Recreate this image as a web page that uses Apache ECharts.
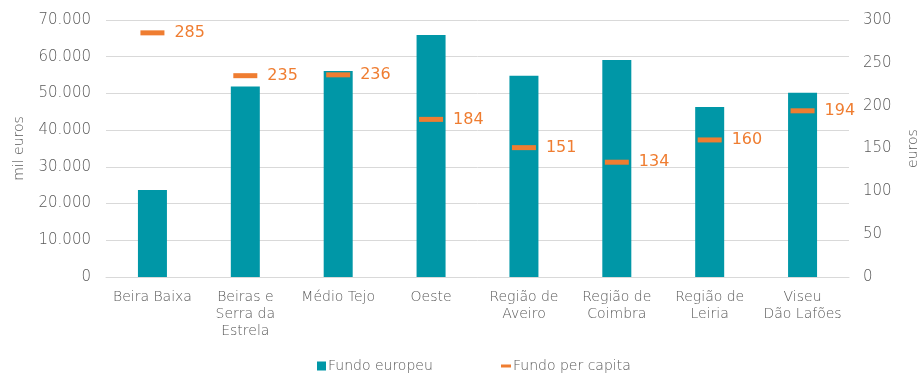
<!DOCTYPE html>
<html>
<head>
<meta charset="utf-8">
<script src="https://cdn.jsdelivr.net/npm/echarts@6/dist/echarts.min.js"></script>
<style>
  html, body { margin: 0; padding: 0; background: #ffffff; }
  #chart { width: 923px; height: 374px; }
</style>
</head>
<body>
<div id="chart"></div>
<script>
// Regions (NUTS III) and their funding figures
const categories = [
  'Beira Baixa', 'Beiras e\nSerra da\nEstrela', 'Médio Tejo', 'Oeste',
  'Região de\nAveiro', 'Região de\nCoimbra', 'Região de\nLeiria', 'Viseu\nDão Lafões'
];
// European funding, thousand euros
const fundoEuropeu = [23700, 51900, 56100, 65900, 54800, 59100, 46300, 50200];
// Funding per capita, euros
const fundoPerCapita = [285, 235, 236, 184, 151, 134, 160, 194];

const leftTicks = { min: 0, max: 70000, interval: 10000 };
const rightTicks = { min: 0, max: 300, interval: 50 };

const TEAL = '#0097a7';
const ORANGE = '#ef7d31';
const TEXT = '#595959';
const FONT = 'DejaVu Sans';
const W = 200;

const fmtThousands = v => String(v).replace(/\B(?=(\d{3})+(?!\d))/g, '.');

const legendText = { color: TEXT, fontSize: 14, fontFamily: FONT, fontWeight: W, padding: [0, 0, 0, -3] };

const chart = echarts.init(document.getElementById('chart'));
chart.setOption({
  animation: false,
  textStyle: { fontFamily: FONT, fontWeight: W },
  grid: { left: 106, right: 74, top: 20, bottom: 97, containLabel: false, outerBoundsMode: 'none' },
  legend: [
    {
      left: 317, top: 359, padding: 0,
      itemWidth: 9, itemHeight: 9,
      textStyle: legendText,
      data: [{ name: 'Fundo europeu', icon: 'rect' }]
    },
    {
      left: 501, top: 359, padding: 0,
      itemWidth: 10, itemHeight: 3,
      textStyle: legendText,
      data: [{ name: 'Fundo per capita', icon: 'rect' }]
    }
  ],
  xAxis: {
    type: 'category',
    data: categories,
    axisLine: { lineStyle: { color: '#d9d9d9' } },
    axisTick: { show: false },
    axisLabel: { color: TEXT, fontSize: 14, fontWeight: W, lineHeight: 17, margin: 12, interval: 0 }
  },
  yAxis: [
    {
      type: 'value',
      min: leftTicks.min, max: leftTicks.max, interval: leftTicks.interval,
      name: 'mil euros',
      nameLocation: 'middle',
      nameRotate: 90,
      nameGap: 80,
      nameTextStyle: { color: TEXT, fontSize: 14, fontWeight: W },
      axisLine: { show: false },
      axisTick: { show: false },
      axisLabel: { color: TEXT, fontSize: 15, fontWeight: W, margin: 15, formatter: fmtThousands },
      splitLine: { lineStyle: { color: '#d9d9d9', width: 1 } }
    },
    {
      type: 'value',
      min: rightTicks.min, max: rightTicks.max, interval: rightTicks.interval,
      name: 'euros',
      nameLocation: 'middle',
      nameRotate: 90,
      nameGap: 57,
      nameTextStyle: { color: TEXT, fontSize: 14, fontWeight: W },
      axisLine: { show: false },
      axisTick: { show: false },
      axisLabel: { color: TEXT, fontSize: 15, fontWeight: W, margin: 14 },
      splitLine: { show: false }
    }
  ],
  series: [
    {
      name: 'Fundo europeu',
      type: 'bar',
      yAxisIndex: 0,
      data: fundoEuropeu,
      barWidth: 29,
      itemStyle: { color: TEAL }
    },
    {
      name: 'Fundo per capita',
      type: 'scatter',
      yAxisIndex: 1,
      data: fundoPerCapita,
      symbol: 'rect',
      symbolSize: [24, 5],
      itemStyle: { color: ORANGE, opacity: 1 },
      emphasis: { disabled: true },
      label: {
        show: true,
        position: 'right',
        distance: 10,
        color: ORANGE,
        fontSize: 16,
        fontWeight: 'normal'
      },
      z: 5
    }
  ]
});
</script>
</body>
</html>
